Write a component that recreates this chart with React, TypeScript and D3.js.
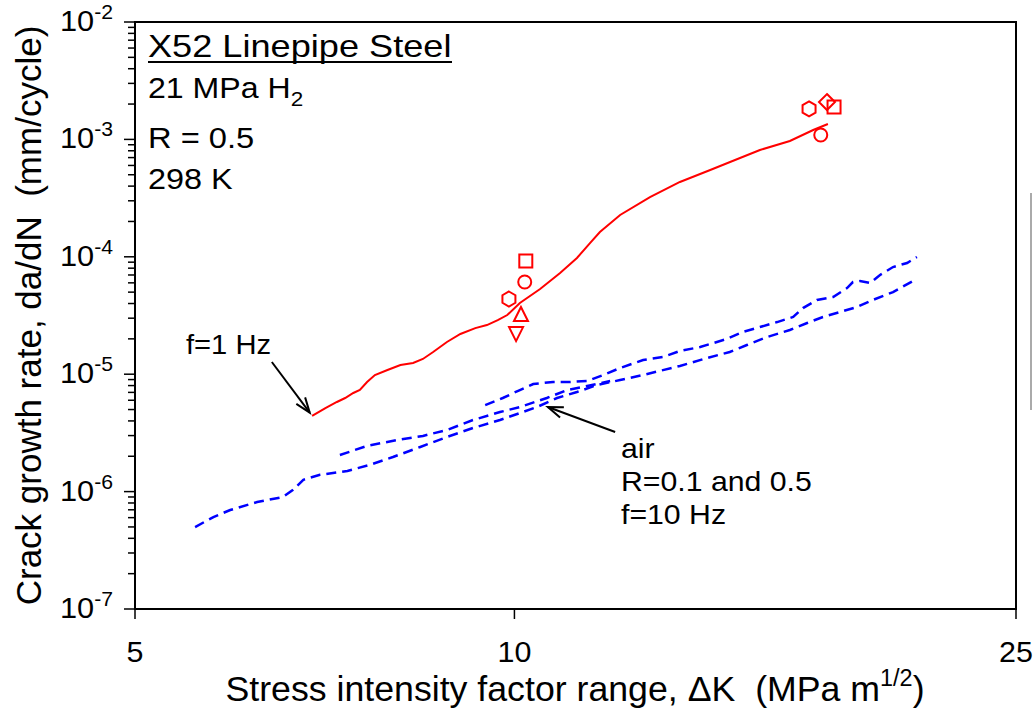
import * as d3 from "d3";

// ΔK (MPa m^1/2) and da/dN (mm/cycle)
const h2K = [6.91, 7.08, 7.23, 7.34, 7.45, 7.54, 7.64, 7.75, 7.93, 8.12, 8.31, 8.46, 8.62, 8.84, 9.06, 9.31, 9.51, 9.7, 9.87, 10.1, 10.48, 10.87, 11.21, 11.48, 11.69, 12.13, 12.81, 13.53, 14.3, 15.1, 15.66, 16.54, 17.26, 17.73];
const h2Rate = [4.41e-6, 5.15e-6, 5.8e-6, 6.27e-6, 6.92e-6, 7.33e-6, 8.58e-6, 9.84e-6, 1.086e-5, 1.198e-5, 1.246e-5, 1.348e-5, 1.546e-5, 1.88e-5, 2.2e-5, 2.47e-5, 2.62e-5, 2.89e-5, 3.19e-5, 4.04e-5, 5.32e-5, 7.28e-5, 9.77e-5, 1.31e-4, 1.626e-4, 2.27e-4, 3.23e-4, 4.34e-4, 5.49e-4, 6.94e-4, 8.12e-4, 9.69e-4, 1.202e-3, 1.352e-3];

const airAK = [5.58, 5.77, 5.95, 6.25, 6.55, 6.67, 6.8, 7.01, 7.37, 7.68, 8.01, 8.42, 8.84, 9.27, 9.74, 10.42, 10.81, 11.21, 11.63, 12.13, 12.65, 13.53, 14.22, 14.82, 15.29, 15.86, 16.54, 17.07, 17.57, 18.13, 18.7, 19.25, 19.97, 20.71];
const airARate = [4.99e-7, 6.07e-7, 6.97e-7, 8.15e-7, 8.99e-7, 1.03e-6, 1.26e-6, 1.39e-6, 1.5e-6, 1.69e-6, 1.97e-6, 2.4e-6, 2.92e-6, 3.48e-6, 4.07e-6, 5.25e-6, 6.27e-6, 7.05e-6, 8.09e-6, 8.92e-6, 9.84e-6, 1.175e-5, 1.374e-5, 1.546e-5, 1.773e-5, 2.07e-5, 2.38e-5, 2.73e-5, 3.07e-5, 3.39e-5, 3.74e-5, 4.29e-5, 5.01e-5, 6.22e-5];

const airBK = [7.27, 7.64, 8.07, 8.46, 8.84, 9.27, 9.74, 10.1, 10.61, 11.01, 11.42, 11.91];
const airBRate = [2.05e-6, 2.45e-6, 2.75e-6, 2.98e-6, 3.35e-6, 4.07e-6, 4.76e-6, 5.25e-6, 6.27e-6, 7.33e-6, 7.93e-6, 8.75e-6];

const airCK = [9.48, 9.79, 10.1, 10.35, 10.73, 11.07, 11.42, 11.76, 12.13, 12.65, 13.12, 13.53, 14.04, 14.74, 15.18, 15.66, 16.16, 16.64, 16.94, 17.38, 17.9, 18.36, 18.56, 18.8, 19.15, 19.5, 19.97, 20.49, 20.86];
const airCRate = [5.46e-6, 6.27e-6, 7.33e-6, 8.25e-6, 8.58e-6, 8.58e-6, 8.75e-6, 9.84e-6, 1.129e-5, 1.321e-5, 1.401e-5, 1.576e-5, 1.705e-5, 1.995e-5, 2.29e-5, 2.52e-5, 2.78e-5, 3.07e-5, 3.66e-5, 4.29e-5, 4.55e-5, 5.42e-5, 6.1e-5, 6.22e-5, 5.98e-5, 7.0e-5, 8.18e-5, 8.86e-5, 9.96e-5];

// single-specimen points in H2
const pointK = [9.9, 10.19, 10.21, 10.12, 10.03, 17.13, 17.7, 17.93, 17.5];
const pointRate = [4.37e-5, 6.1e-5, 9.2e-5, 3.19e-5, 2.24e-5, 1.82e-3, 2.08e-3, 1.89e-3, 1.09e-3];
const pointShape = ["hex", "circle", "square", "triUp", "triDown", "hex", "diamond", "square", "circle"];

const xTicks = [5, 10, 25];
const yDecades = [-7, -6, -5, -4, -3, -2];

const W = 1033;
const H = 712;
const L = 135, R = 1016, T = 22, B = 609;
const FONT = "'Liberation Sans', Arial, sans-serif";

function markerPath(shape: string, cx: number, cy: number): string {
  if (shape === "circle") {
    const r = 6.5;
    return `M${cx - r},${cy}a${r},${r} 0 1,0 ${2 * r},0a${r},${r} 0 1,0 ${-2 * r},0Z`;
  }
  if (shape === "square") {
    const s = 6.5;
    return `M${cx - s},${cy - s}H${cx + s}V${cy + s}H${cx - s}Z`;
  }
  if (shape === "diamond") {
    const s = 8;
    return `M${cx},${cy - s}L${cx + s},${cy}L${cx},${cy + s}L${cx - s},${cy}Z`;
  }
  if (shape === "triUp") {
    return `M${cx},${cy - 8}L${cx + 7},${cy + 6}L${cx - 7},${cy + 6}Z`;
  }
  if (shape === "triDown") {
    return `M${cx},${cy + 8}L${cx + 7},${cy - 6}L${cx - 7},${cy - 6}Z`;
  }
  // hexagon, pointy top
  const r = 7.5;
  const pts = d3.range(6).map((i) => {
    const a = (Math.PI / 3) * i - Math.PI / 2;
    return [cx + r * Math.cos(a), cy + r * Math.sin(a)];
  });
  return "M" + pts.map((p) => p.join(",")).join("L") + "Z";
}

function Arrow({ x1, y1, x2, y2 }: { x1: number; y1: number; x2: number; y2: number }) {
  const ang = Math.atan2(y2 - y1, x2 - x1);
  const len = 16, spread = 0.35;
  const a1 = [x2 - len * Math.cos(ang - spread), y2 - len * Math.sin(ang - spread)];
  const a2 = [x2 - len * Math.cos(ang + spread), y2 - len * Math.sin(ang + spread)];
  return (
    <g stroke="#000" strokeWidth={2} fill="none">
      <line x1={x1} y1={y1} x2={x2} y2={y2} />
      <path d={`M${a1[0]},${a1[1]}L${x2},${y2}L${a2[0]},${a2[1]}`} />
    </g>
  );
}

// the source figure's lettering is a little wider than Liberation Sans
function Wide({ x, y, sx = 1.08, size, anchor = "start", children }: {
  x: number; y: number; sx?: number; size: number; anchor?: string; children: any;
}) {
  return (
    <g transform={`translate(${x},${y}) scale(${sx},1)`}>
      <text x={0} y={0} fontSize={size} textAnchor={anchor}>
        {children}
      </text>
    </g>
  );
}

export default function App() {
  const x = d3.scaleLog().domain([5, 25]).range([L, R]);
  const y = d3.scaleLog().domain([1e-7, 1e-2]).range([B, T]);

  const line = d3
    .line<number[]>()
    .x((d) => x(d[0]))
    .y((d) => y(d[1]));

  const zip = (ks: number[], rs: number[]) => ks.map((k, i) => [k, rs[i]]);

  const minorY: number[] = [];
  yDecades.slice(0, -1).forEach((e) => {
    for (let m = 2; m <= 9; m++) minorY.push(m * Math.pow(10, e));
  });

  return (
    <svg
      width={W}
      height={H}
      style={{ position: "absolute", left: 0, top: 0, background: "#fff" }}
      fontFamily={FONT}
    >
      {/* stray legend edge at the right border */}
      <line x1={1031} y1={193} x2={1031} y2={410} stroke="#aaa" strokeWidth={2} />

      {/* air curves */}
      <g fill="none" stroke="#0000ff" strokeWidth={2.5} strokeDasharray="10,6">
        <path d={line(zip(airAK, airARate)) ?? ""} />
        <path d={line(zip(airBK, airBRate)) ?? ""} />
        <path d={line(zip(airCK, airCRate)) ?? ""} />
      </g>

      {/* hydrogen curve */}
      <path d={line(zip(h2K, h2Rate)) ?? ""} fill="none" stroke="#ff0000" strokeWidth={2} />

      {pointK.map((k, i) => (
        <path
          key={i}
          d={markerPath(pointShape[i], x(k), y(pointRate[i]))}
          fill="none"
          stroke="#ff0000"
          strokeWidth={2}
        />
      ))}

      {/* frame */}
      <rect x={L} y={T} width={R - L} height={B - T} fill="none" stroke="#000" strokeWidth={2} />

      {/* y ticks */}
      {minorY.map((v, i) => (
        <line key={i} x1={L - 7} x2={L} y1={y(v)} y2={y(v)} stroke="#000" strokeWidth={1.5} />
      ))}
      {yDecades.map((e) => (
        <g key={e}>
          <line x1={L - 11} x2={L} y1={y(Math.pow(10, e))} y2={y(Math.pow(10, e))} stroke="#000" strokeWidth={1.5} />
          <Wide x={113} y={y(Math.pow(10, e)) + 9} sx={1.06} size={29} anchor="end">
            10
            <tspan dy={-12} fontSize={20}>{`-${-e}`}</tspan>
          </Wide>
        </g>
      ))}

      {/* x ticks */}
      {xTicks.map((t) => (
        <g key={t}>
          <line x1={x(t)} x2={x(t)} y1={B} y2={B + 10} stroke="#000" strokeWidth={1.5} />
          <Wide x={x(t)} y={662} sx={1.05} size={29} anchor="middle">
            {t}
          </Wide>
        </g>
      ))}

      {/* axis titles */}
      <Wide x={575} y={701} sx={1.02} size={35} anchor="middle">
        Stress intensity factor range, ΔK{"\u00a0\u00a0"}(MPa m
        <tspan dy={-15} fontSize={23}>1/2</tspan>
        <tspan dy={15}>)</tspan>
      </Wide>
      <text transform={`translate(41,${(T + B) / 2}) rotate(-90)`} textAnchor="middle" fontSize={35}>
        Crack growth rate, da/dN{"\u00a0\u00a0"}(mm/cycle)
      </text>

      {/* condition block */}
      <Wide x={148} y={57} sx={1.13} size={32}>X52 Linepipe Steel</Wide>
      <line x1={148} x2={452} y1={62} y2={62} stroke="#000" strokeWidth={2} />
      <Wide x={148} y={98} sx={1.07} size={30}>
        21 MPa H<tspan dy={8} fontSize={21}>2</tspan>
      </Wide>
      <Wide x={148} y={148} sx={1.09} size={30}>R = 0.5</Wide>
      <Wide x={148} y={189} sx={1.08} size={30}>298 K</Wide>

      {/* annotations */}
      <Wide x={186} y={354} sx={1.08} size={27}>f=1 Hz</Wide>
      <Arrow x1={x(6.42)} y1={y(1.27e-5)} x2={x(6.88)} y2={y(4.7e-6)} />

      <Arrow x1={x(12.02)} y1={y(3.22e-6)} x2={x(10.63)} y2={y(5.25e-6)} />
      <Wide x={621} y={458} sx={1.08} size={28}>air</Wide>
      <Wide x={621} y={491} sx={1.08} size={28}>R=0.1 and 0.5</Wide>
      <Wide x={621} y={524} sx={1.08} size={28}>f=10 Hz</Wide>
    </svg>
  );
}
